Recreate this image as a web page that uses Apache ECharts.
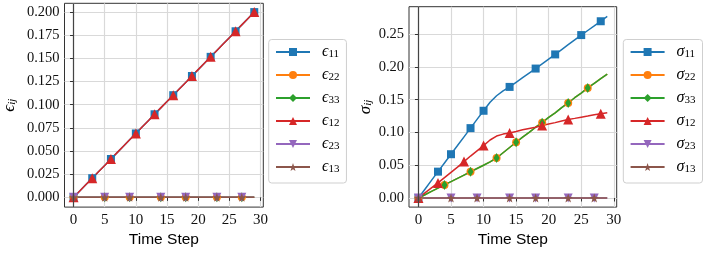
<!DOCTYPE html>
<html><head><meta charset="utf-8">
<script src="https://cdn.jsdelivr.net/npm/echarts@6/dist/echarts.min.js"></script>
<style>html,body{margin:0;padding:0;background:#fff}#c{width:706px;height:253px}</style>
</head><body><div id="c"></div>
<script>
// ---- data ----
const steps = [0,1,2,3,4,5,6,7,8,9,10,11,12,13,14,15,16,17,18,19,20,21,22,23,24,25,26,27,28,29];
const xTicks = [0,5,10,15,20,25,30];

const eps11 = [0,0.0069,0.0138,0.0207,0.0276,0.0345,0.0414,0.0483,0.0552,0.0621,0.069,0.0759,0.0828,0.0897,0.0966,0.1034,0.1103,0.1172,0.1241,0.131,0.1379,0.1448,0.1517,0.1586,0.1655,0.1724,0.1793,0.1862,0.1931,0.2];
const eps22 = [0,0,0,0,0,0,0,0,0,0,0,0,0,0,0,0,0,0,0,0,0,0,0,0,0,0,0,0,0,0];
const eps33 = [0,0,0,0,0,0,0,0,0,0,0,0,0,0,0,0,0,0,0,0,0,0,0,0,0,0,0,0,0,0];
const eps12 = [0,0.0069,0.0138,0.0207,0.0276,0.0345,0.0414,0.0483,0.0552,0.0621,0.069,0.0759,0.0828,0.0897,0.0966,0.1034,0.1103,0.1172,0.1241,0.131,0.1379,0.1448,0.1517,0.1586,0.1655,0.1724,0.1793,0.1862,0.1931,0.2];
const eps23 = [0,0,0,0,0,0,0,0,0,0,0,0,0,0,0,0,0,0,0,0,0,0,0,0,0,0,0,0,0,0];
const eps13 = [0,0,0,0,0,0,0,0,0,0,0,0,0,0,0,0,0,0,0,0,0,0,0,0,0,0,0,0,0,0];
const epsYTicks = [0,0.025,0.05,0.075,0.1,0.125,0.15,0.175,0.2];

const sig11 = [0,0.0134,0.0268,0.0402,0.0535,0.0668,0.080,0.0933,0.1066,0.120,0.1331,0.146,0.156,0.1635,0.1695,0.1765,0.1835,0.1905,0.1975,0.2047,0.2119,0.2191,0.2265,0.2339,0.2413,0.2486,0.2556,0.2626,0.2697,0.277];
const sig22 = [0,0.005,0.010,0.015,0.020,0.025,0.030,0.035,0.040,0.045,0.050,0.055,0.061,0.069,0.077,0.085,0.093,0.100,0.108,0.115,0.123,0.130,0.138,0.145,0.153,0.160,0.168,0.175,0.182,0.189];
const sig33 = [0,0.005,0.010,0.015,0.020,0.025,0.030,0.035,0.040,0.045,0.050,0.055,0.061,0.069,0.077,0.085,0.093,0.100,0.108,0.115,0.123,0.130,0.138,0.145,0.153,0.160,0.168,0.175,0.182,0.189];
const sig12 = [0,0.0077,0.0154,0.023,0.031,0.039,0.047,0.0555,0.064,0.072,0.080,0.0885,0.0945,0.0975,0.0992,0.1015,0.104,0.106,0.108,0.1105,0.113,0.115,0.1175,0.1198,0.1215,0.1233,0.125,0.127,0.1287,0.130];
const sig23 = [0,0,0,0,0,0,0,0,0,0,0,0,0,0,0,0,0,0,0,0,0,0,0,0,0,0,0,0,0,0];
const sig13 = [0,0,0,0,0,0,0,0,0,0,0,0,0,0,0,0,0,0,0,0,0,0,0,0,0,0,0,0,0,0];
const sigYTicks = [0,0.05,0.1,0.15,0.2,0.25];

// marker positions (time-step indices that carry a marker)
const epsMarksA = [0,3,6,10,13,16,19,22,26,29];
const epsMarksB = [0,5,9,14,18,23,27];
const sig11Marks = [0,3,5,8,10,14,18,21,25,28];
const sig2233Marks = [0,4,8,12,15,19,23,26];
const sig12Marks = [0,3,7,10,14,19,23,28];
const sigShearMarks = [0,5,9,14,18,23,27];

const epsLabels = ['11','22','33','12','23','13'];
const sigLabels = ['11','22','33','12','23','13'];

// ---- styles ----
const C = ['#1f77b4','#ff7f0e','#2ca02c','#d62728','#9467bd','#8c564b'];
const STAR = 'path://M0,-10L2.35,-3.24L9.51,-3.09L3.8,1.24L5.88,8.09L0,4L-5.88,8.09L-3.8,1.24L-9.51,-3.09L-2.35,-3.24Z';
const TRI_DOWN = 'path://M-1,-1L1,-1L0,1Z';
const SYM = [['rect',8],['circle',8],['diamond',[6,10]],['triangle',10],[TRI_DOWN,9],[STAR,9]];
const SERIF = '"Liberation Serif","DejaVu Serif",serif';
const SANS = '"Liberation Sans","DejaVu Sans",sans-serif';

function mk(name, k, data, marks, gi) {
  const set = new Set(marks);
  const sz = SYM[k][1];
  return {
    name, type: 'line', xAxisIndex: gi, yAxisIndex: gi,
    data: data.map((v, i) => [steps[i], v]),
    symbol: SYM[k][0],
    symbolSize: (val, p) => set.has(p.dataIndex) ? sz : 0,
    showSymbol: true, showAllSymbol: true,
    lineStyle: { color: C[k], width: 1.5 },
    itemStyle: { color: C[k] },
    emphasis: { disabled: true },
    animation: false
  };
}

function xAxis(gi) {
  return {
    type: 'value', gridIndex: gi, min: -1.45, max: 30.45, interval: 5,
    name: 'Time Step', nameLocation: 'middle', nameGap: 12,
    nameTextStyle: { fontFamily: SANS, fontSize: 15.5, color: '#000', verticalAlign: 'top' },
    axisLine: { show: false },
    axisTick: { show: true, inside: false, length: 3.5, customValues: xTicks, lineStyle: { color: '#333' } },
    axisLabel: { customValues: xTicks, margin: 5,
      fontFamily: SERIF, fontSize: 15, color: '#111' },
    splitLine: { show: true, lineStyle: { color: '#d9d9d9', width: 1.2 } }
  };
}
function yAxis(gi, min, max, interval, ticks, dec, nm, gap) {
  return {
    type: 'value', gridIndex: gi, min, max, interval,
    name: nm, nameLocation: 'middle', nameRotate: 90, nameGap: gap,
    nameTextStyle: { rich: {
      g: { fontFamily: SERIF, fontStyle: 'italic', fontSize: 17, lineHeight: 16, color: '#000' },
      s: { fontFamily: SERIF, fontStyle: 'italic', fontSize: 11, lineHeight: 9, verticalAlign: 'bottom', color: '#000' }
    } },
    axisLine: { show: false },
    axisTick: { show: true, inside: false, length: 3.5, customValues: ticks, lineStyle: { color: '#333' } },
    axisLabel: { customValues: ticks, margin: 5,
      fontFamily: SERIF, fontSize: 14.5, color: '#111', formatter: v => v.toFixed(dec) },
    splitLine: { show: true, lineStyle: { color: '#d9d9d9', width: 1.2 } }
  };
}
function legend(names, sym, subs, left) {
  const map = {};
  names.forEach((n, i) => map[n] = '{g|' + sym + '}{s|' + subs[i] + '}');
  return {
    orient: 'vertical', left, top: 39.5,
    data: names,
    itemWidth: 34, itemHeight: 10, itemGap: 7,
    padding: [4.5, 7, 8, 6.3],
    borderColor: '#cfcfcf', borderWidth: 1, borderRadius: 3,
    backgroundColor: 'rgba(255,255,255,0.8)',
    selectedMode: false,
    formatter: n => map[n],
    textStyle: { rich: {
      g: { fontFamily: SERIF, fontStyle: 'italic', fontSize: 16, lineHeight: 16, padding: [0,0,0,7], color: '#000' },
      s: { fontFamily: SERIF, fontSize: 11, lineHeight: 8, verticalAlign: 'bottom', color: '#000' }
    } }
  };
}

const epsNames = ['e11','e22','e33','e12','e23','e13'];
const sigNames = ['s11','s22','s33','s12','s23','s13'];

const zeroLine = (gi) => ({
  silent: true, symbol: 'none', animation: false,
  label: { show: false },
  lineStyle: { color: '#444', width: 1.2, type: 'solid' },
  data: [{ xAxis: 0 }]
});

const series = [
  mk('e11', 0, eps11, epsMarksA, 0),
  mk('e22', 1, eps22, epsMarksB, 0),
  mk('e33', 2, eps33, epsMarksB, 0),
  mk('e12', 3, eps12, epsMarksA, 0),
  mk('e23', 4, eps23, epsMarksB, 0),
  mk('e13', 5, eps13, epsMarksB, 0),
  mk('s11', 0, sig11, sig11Marks, 1),
  mk('s22', 1, sig22, sig2233Marks, 1),
  mk('s33', 2, sig33, sig2233Marks, 1),
  mk('s12', 3, sig12, sig12Marks, 1),
  mk('s23', 4, sig23, sigShearMarks, 1),
  mk('s13', 5, sig13, sigShearMarks, 1)
];
series[0].markLine = zeroLine(0);
series[6].markLine = zeroLine(1);

const chart = echarts.init(document.getElementById('c'), null, { renderer: 'canvas' });
chart.setOption({
  animation: false,
  backgroundColor: '#fff',
  grid: [
    { left: 56, top: 3.3, width: 207.3, height: 206.7, show: true, borderColor: '#333', borderWidth: 1, backgroundColor: 'transparent' },
    { left: 409, top: 6.7, width: 207.7, height: 207.3, show: true, borderColor: '#333', borderWidth: 1, backgroundColor: 'transparent' }
  ],
  xAxis: [xAxis(0), xAxis(1)],
  yAxis: [
    yAxis(0, -0.0105, 0.2095, 0.025, epsYTicks, 3, '{g|ϵ}{s|ij}', 47),
    yAxis(1, -0.0139, 0.2919, 0.05, sigYTicks, 2, '{g|σ}{s|ij}', 35)
  ],
  legend: [
    legend(epsNames, 'ϵ', epsLabels, 268.7),
    legend(sigNames, 'σ', sigLabels, 623.3)
  ],
  series
});
</script>
</body></html>
